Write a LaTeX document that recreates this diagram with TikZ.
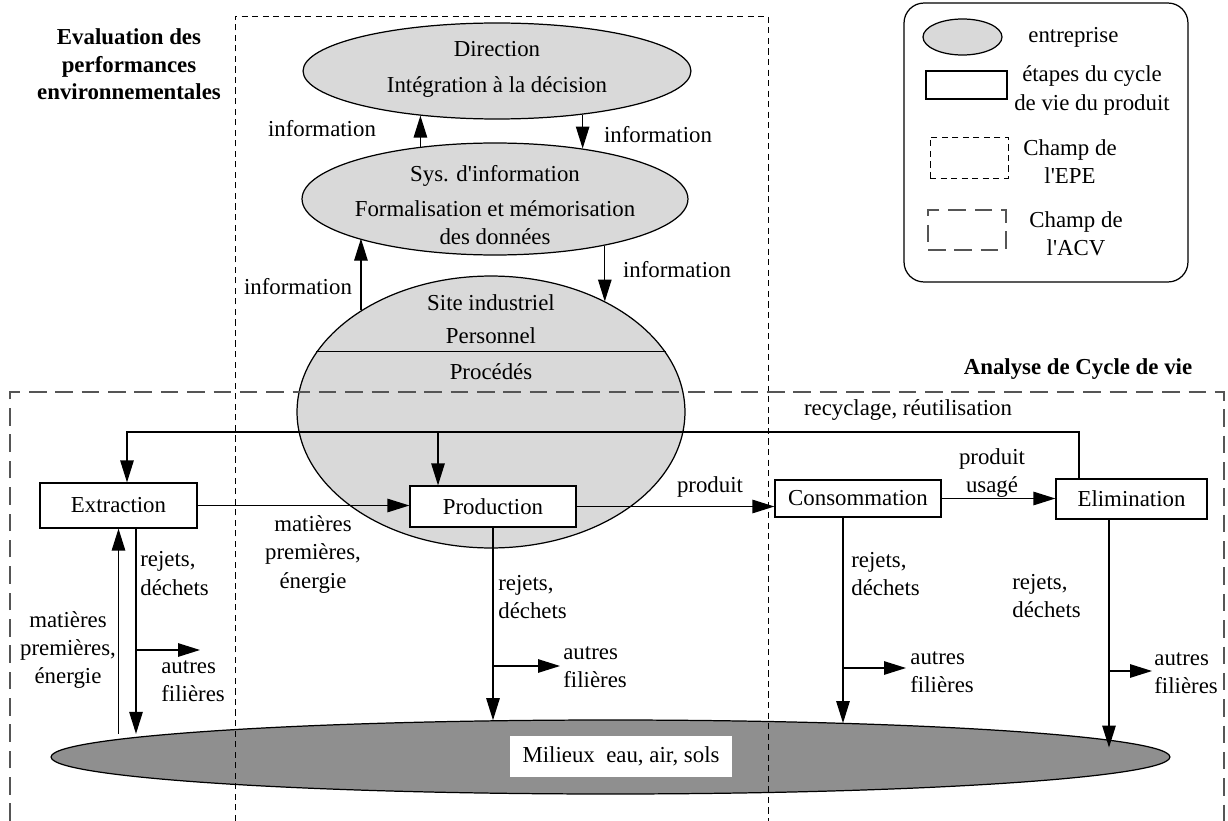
\documentclass[tikz,border=0pt]{standalone}
\usepackage{fontspec}
\setmainfont{Liberation Serif}
\usetikzlibrary{arrows.meta, shapes.geometric}
\definecolor{firmgray}{RGB}{217,217,217}
\definecolor{milgray}{RGB}{143,143,143}
\definecolor{acvgray}{RGB}{85,85,85}
\tikzset{
  arr/.style={-{Triangle[length=0.44cm,width=0.27cm]}, line width=0.7pt},
  firm/.style={ellipse, draw, line width=0.7pt, fill=firmgray, inner sep=0pt},
  stage/.style={rectangle, draw, line width=0.7pt, fill=white, inner sep=0pt},
  lbl/.style={inner sep=0pt, align=center},
  lbll/.style={inner sep=0pt, align=left, anchor=west},
  ttl/.style={inner sep=0pt, align=center, font=\fontsize{13pt}{15.6pt}\selectfont\bfseries},
  epe/.style={dash pattern=on 3.5pt off 2.5pt, line width=0.5pt},
  acv/.style={dash pattern=on 10pt off 5pt, line width=0.7pt, draw=acvgray},
}
\begin{document}
\begin{tikzpicture}[x=0.02cm, y=-0.02cm, font=\fontsize{13pt}{16pt}\selectfont]
\useasboundingbox (0,0) rectangle (1228,821);

% entreprise
\node[firm, minimum width=7.76cm, minimum height=1.92cm] (dir) at (497,71) {};
\node[firm, minimum width=7.72cm, minimum height=2.24cm] (sys) at (495,199) {};
\node[firm, minimum width=7.76cm, minimum height=5.44cm] (site) at (491,412) {};
\node[ellipse, draw, line width=0.7pt, fill=milgray, inner sep=0pt,
      minimum width=22.38cm, minimum height=1.48cm] (mil) at (610.5,757) {};
\draw[line width=0.7pt] (site.161) -- (site.19);

\node[lbl] (dirtxt) at (497,69) {Direction\\[4.4pt]Intégration à la décision};
\node[lbl] (systxt) at (495,205) {Sys. d\textquotesingle information\\[3.8pt]Formalisation et mémorisation\\des données};
\node[lbl] (sitetxt) at (491,319.5) {Site industriel\\[2.7pt]Personnel};
\node[lbl] (proctxt) at (491,372) {Procédés};
\node[lbl, fill=white, minimum width=4.44cm, minimum height=0.82cm] (miltxt) at (621,756.5) {Milieux~~eau, air, sols};

% champs EPE / ACV
\draw[epe] (235,821) |- (768,16) -- (768,821);
\draw[acv] (10,821) |- (1224,392) -- (1224,821);

\node[ttl] (epetitle) at (129,64.5) {Evaluation des\\performances\\environnementales};
\node[ttl] (acvtitle) at (1078,369) {Analyse de Cycle de vie};

% flux d'information
\draw[arr] (sys.145) -- (sys.145 |- dir.210);
\draw[arr] (dir.-27.6) -- (dir.-27.6 |- sys.30.6);
\draw[arr] (site.142.2) -- (site.142.2 |- sys.196.7);
\draw[arr] (sys.-23.2) -- (sys.-23.2 |- site.44.7);
\node[lbl] (info1) at (322,129) {information};
\node[lbl] (info2) at (658,135) {information};
\node[lbl] (info3) at (298,287) {information};
\node[lbl] (info4) at (677,270) {information};

% etapes du cycle de vie
\node[stage, minimum width=3.14cm, minimum height=0.9cm] (ext) at (118.5,505.5) {Extraction};
\node[stage, minimum width=3.32cm, minimum height=0.82cm] (prod) at (493,506.5) {Production};
\node[stage, minimum width=3.32cm, minimum height=0.74cm] (cons) at (858,498.5) {Consommation};
\node[stage, minimum width=3.02cm, minimum height=0.8cm] (elim) at (1131.5,499) {Elimination};

% recyclage
\coordinate (recy) at (0,432);
\coordinate (elimrec) at ([xshift=-1.05cm]elim.north);
\coordinate (extin) at ([xshift=0.17cm]ext.north);
\coordinate (prodin) at ([xshift=-1.1cm]prod.north);
\draw[arr] (elimrec) |- (extin |- recy) -- (extin);
\draw[arr] (prodin |- recy) -- (prodin);
\node[lbl] (reclbl) at (908,410) {recyclage, réutilisation};

\draw[arr] (ext.east) -- (ext.east -| prod.west);
\draw[arr] (prod.east) -- (prod.east -| cons.west);
\draw[arr] (cons.east) -- (cons.east -| elim.west);
\node[lbl] (prodlbl) at (710,487) {produit};
\node[lbl] (uselbl) at (992,473) {produit\\usagé};
\node[lbl] (mp1) at (313,554.5) {matières\\premières,\\énergie};

% rejets vers les milieux
\coordinate (extout) at ([xshift=0.35cm]ext.south);
\coordinate (consout) at ([xshift=-0.3cm]cons.south);
\coordinate (elimout) at ([xshift=-0.45cm]elim.south);
\draw[arr] (mil.177.94 -| ext.south) -- (ext.south);
\draw[arr] (extout) -- (extout |- mil.177.63);
\draw[arr] (prod.south) -- (prod.south |- mil.162.74);
\draw[arr] (consout) -- (consout |- mil.8.24);
\draw[arr] (elimout) -- (elimout |- mil.1.93);

\coordinate (extbr) at (136,650);
\coordinate (prodbr) at (493,666);
\coordinate (consbr) at (843,668);
\coordinate (elimbr) at (1109,671);
\draw[arr] (extbr) -- ++(64,0);
\draw[arr] (prodbr) -- ++(67,0);
\draw[arr] (consbr) -- ++(63,0);
\draw[arr] (elimbr) -- ++(43,0);

\node[lbl] (mp2) at (68,650) {matières\\premières,\\énergie};
\node[lbll] (rej1) at (140,573.5) {rejets,\\déchets};
\node[lbll] (aut1) at (161,681.5) {autres\\filières};
\node[lbll] (rej2) at (498,597) {rejets,\\déchets};
\node[lbll] (aut2) at (563,667.5) {autres\\filières};
\node[lbll] (rej3) at (851,574) {rejets,\\déchets};
\node[lbll] (aut3) at (910,672.5) {autres\\filières};
\node[lbll] (rej4) at (1012,596) {rejets,\\déchets};
\node[lbll] (aut4) at (1154,673.5) {autres\\filières};

% legende
\node[draw, line width=0.7pt, rounded corners=0.4cm, minimum width=5.68cm,
      minimum height=5.58cm] (legend) at (1046,142.5) {};
\node[firm, minimum width=1.58cm, minimum height=0.72cm] (legfirm) at (962.5,37) {};
\node[lbll] (legfirmtxt) at (1028,37) {entreprise};
\node[stage, minimum width=1.62cm, minimum height=0.56cm] (legstage) at (966.5,85) {};
\node[lbl] (legstagetxt) at (1092,90.5) {étapes du cycle\\de vie du produit};
\node[draw, epe, minimum width=1.56cm, minimum height=0.82cm] (legepe) at (969,157.5) {};
\node[lbl] (legepetxt) at (1070,162) {Champ de\\l\textquotesingle EPE};
\node[acv, minimum width=1.56cm, minimum height=0.8cm] (legacv) at (967,230) {};
\node[lbl] (legacvtxt) at (1076,234) {Champ de\\l\textquotesingle ACV};
\end{tikzpicture}
\end{document}
